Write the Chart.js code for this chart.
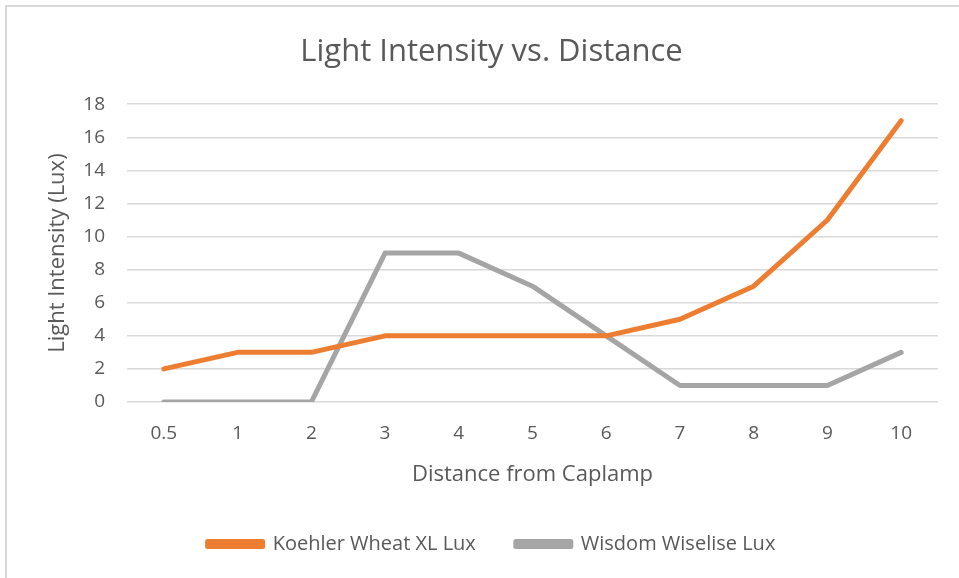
<!DOCTYPE html>
<html>
<head>
<meta charset="utf-8">
<script src="https://cdn.jsdelivr.net/npm/chart.js@4.4.1/dist/chart.umd.min.js"></script>
<style>
  html, body { margin: 0; padding: 0; background: #fff; overflow: hidden; }
  #frame { position: absolute; left: 5px; top: 5px; width: 1200px; height: 800px; border: 2px solid #d9d9d9; }
  #wrap { position: absolute; left: 0; top: 0; width: 959px; height: 578px; }
</style>
</head>
<body>
<div id="frame"></div>
<div id="wrap"><canvas id="lightChart"></canvas></div>
<script>
// distance categories and readings
const distances = ['0.5', '1', '2', '3', '4', '5', '6', '7', '8', '9', '10'];
const koehlerLux = [2, 3, 3, 4, 4, 4, 4, 5, 7, 11, 17];
const wisdomLux = [0, 0, 0, 9, 9, 7, 4, 1, 1, 1, 3];
const yTicks = [0, 2, 4, 6, 8, 10, 12, 14, 16, 18];

const textColor = '#595959';
const fontFamily = '"Open Sans", sans-serif';

new Chart(document.getElementById('lightChart'), {
    type: 'line',
    data: {
        labels: distances,
        datasets: [
            {
                label: 'Koehler Wheat XL Lux',
                data: koehlerLux,
                borderColor: '#ed7d31',
                backgroundColor: '#ed7d31',
                borderWidth: 5,
                borderCapStyle: 'round',
                borderJoinStyle: 'round',
                tension: 0,
                pointRadius: 0,
            },
            {
                label: 'Wisdom Wiselise Lux',
                data: wisdomLux,
                borderColor: '#a5a5a5',
                backgroundColor: '#a5a5a5',
                borderWidth: 5,
                borderCapStyle: 'round',
                borderJoinStyle: 'round',
                tension: 0,
                pointRadius: 0,
            }
        ]
    },
    options: {
        responsive: true,
        maintainAspectRatio: false,
        animation: false,
        layout: { padding: { left: 45, right: 21, top: 0, bottom: 14 } },
        plugins: {
            title: {
                display: true,
                text: 'Light Intensity vs. Distance',
                color: textColor,
                font: { family: fontFamily, size: 31, weight: 'normal' },
                padding: { top: 34, bottom: 33 }
            },
            legend: {
                position: 'bottom',
                labels: {
                    color: textColor,
                    font: { family: fontFamily, size: 20 },
                    boxWidth: 55,
                    boxHeight: 5,
                    padding: 40
                }
            },
            tooltip: { enabled: false }
        },
        scales: {
            x: {
                offset: true,
                grid: { display: false, drawTicks: false },
                border: { display: false },
                ticks: {
                    color: textColor,
                    font: { family: fontFamily, size: 19 },
                    padding: 20,
                    maxRotation: 0
                },
                title: {
                    display: true,
                    text: 'Distance from Caplamp',
                    color: textColor,
                    font: { family: fontFamily, size: 22 },
                    padding: { top: 12, bottom: 6 }
                },
                afterFit: scale => { scale.height = 92; }
            },
            y: {
                min: 0,
                max: 18,
                grid: { color: '#d9d9d9', lineWidth: 1.5, drawTicks: false },
                border: { display: false },
                afterBuildTicks: scale => { scale.ticks = yTicks.map(v => ({ value: v })); },
                ticks: {
                    color: textColor,
                    font: { family: fontFamily, size: 19 },
                    padding: 22
                },
                title: {
                    display: true,
                    text: 'Light Intensity (Lux)',
                    color: textColor,
                    font: { family: fontFamily, size: 22 },
                    padding: { top: 0, bottom: 0 }
                },
                afterFit: scale => { scale.width = 82; }
            }
        }
    }
});
</script>
</body>
</html>
